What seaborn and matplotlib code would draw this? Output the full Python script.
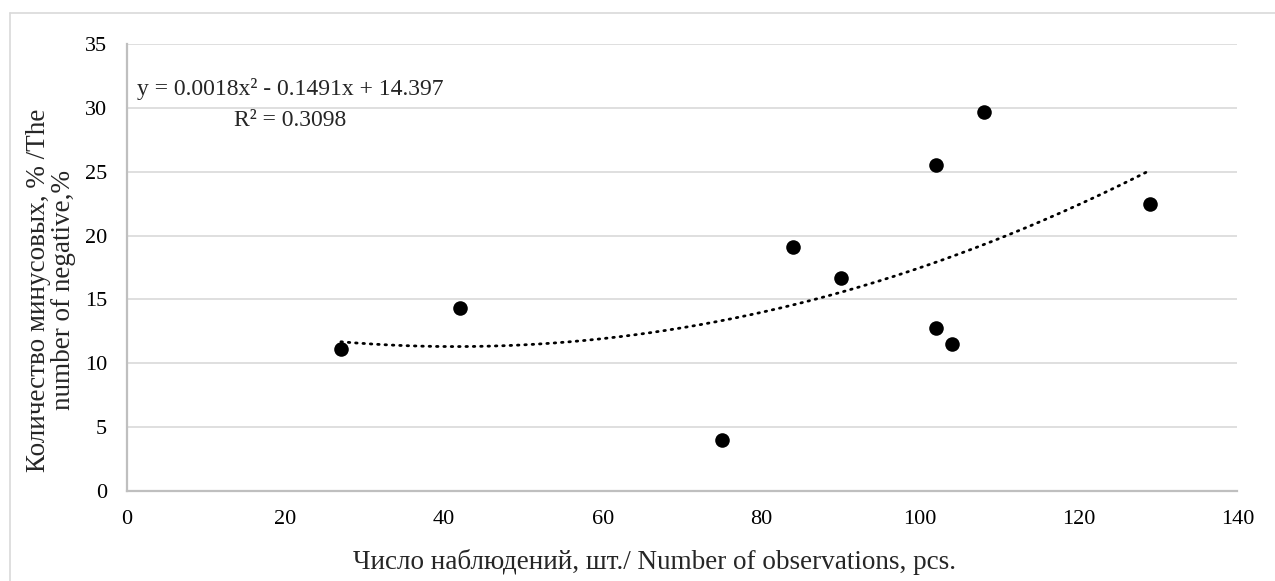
import numpy as np
import pandas as pd
import matplotlib
matplotlib.use("Agg")
import matplotlib.pyplot as plt
from matplotlib.lines import Line2D
import seaborn as sns

# Data
obs = [27, 42, 75, 84, 90, 102, 102, 104, 108, 129]
negative = [11.1, 14.3, 4.0, 19.1, 16.7, 25.5, 12.8, 11.5, 29.7, 22.5]
trend_coef = [0.0018, -0.1491, 14.397]  # y = a x^2 + b x + c (from the chart label)
x_ticks = [0, 20, 40, 60, 80, 100, 120, 140]
y_ticks = [0, 5, 10, 15, 20, 25, 30, 35]
eq_text = "y = 0.0018x² - 0.1491x + 14.397"
r2_text = "R² = 0.3098"
x_label = "Число наблюдений, шт./ Number of observations, pcs."
y_label = "Количество минусовых, % /The\nnumber of negative,%"

sns.set_theme(style="white")
plt.rcParams['font.family'] = ['Liberation Serif', 'DejaVu Serif']

W, H = 1275, 581
FS_TICK = 16
FS_EQ = 17
FS_TITLE = 19.5
fig = plt.figure(figsize=(W / 100, H / 100), dpi=100)
ax = fig.add_axes([126.7 / W, 1 - 491 / H, (1237.5 - 126.7) / W, (491 - 44) / H])

df = pd.DataFrame({"obs": obs, "neg": negative})
xs = np.linspace(min(obs), max(obs), 200)
trend = pd.DataFrame({"x": xs, "y": np.polyval(trend_coef, xs)})

sns.lineplot(data=trend, x="x", y="y", ax=ax, color="black", lw=2.0,
             linestyle=(0, (0.55, 2.1)), dash_capstyle="round", zorder=3)
sns.scatterplot(data=df, x="obs", y="neg", ax=ax, color="black", s=110,
                edgecolor="black", linewidth=0, zorder=4)

ax.set_xlim(0, 140)
ax.set_ylim(0, 35)
ax.set_xticks(x_ticks)
ax.set_yticks(y_ticks)
ax.tick_params(axis="both", length=0, labelsize=FS_TICK, colors="black", pad=14)
ax.set_xlabel("")
ax.set_ylabel("")
ax.yaxis.grid(True, color="#d9d9d9", lw=1.2)
ax.xaxis.grid(False)
ax.set_axisbelow(True)
for s in ["top", "right"]:
    ax.spines[s].set_visible(False)
for s in ["left", "bottom"]:
    ax.spines[s].set_color("#bfbfbf")
    ax.spines[s].set_linewidth(1.6)
    ax.spines[s].set_zorder(2)

fig.text(290 / W, 1 - 89 / H, eq_text, ha="center", va="center", fontsize=FS_EQ)
fig.text(290 / W, 1 - 120 / H, r2_text, ha="center", va="center", fontsize=FS_EQ)
fig.text(655 / W, 1 - 562 / H, x_label, ha="center", va="center", fontsize=FS_TITLE)
fig.text(51 / W, 1 - 290 / H, y_label, ha="center", va="center", fontsize=FS_TITLE,
         rotation=90, multialignment="center", linespacing=1.05)

# outer chart border (left and top visible)
fig.add_artist(Line2D([10 / W, 10 / W], [0, 1 - 13 / H], transform=fig.transFigure,
                      color="#d9d9d9", lw=1.2))
fig.add_artist(Line2D([10 / W, 1], [1 - 13 / H, 1 - 13 / H], transform=fig.transFigure,
                      color="#d9d9d9", lw=1.2))

fig.savefig("out.png", dpi=100, facecolor="white")
